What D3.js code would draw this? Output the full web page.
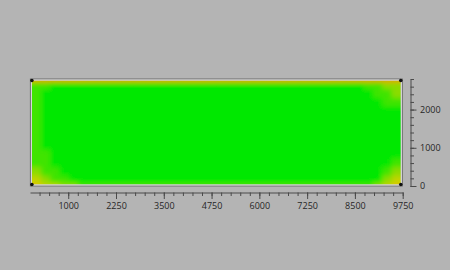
<!DOCTYPE html>
<html>
<head>
<meta charset="utf-8">
<script src="https://cdn.jsdelivr.net/npm/d3@7"></script>
<style>
  html, body { margin: 0; padding: 0; background: #b4b4b4; }
  svg { display: block; }
  .axis text { font-family: "Open Sans", sans-serif; font-size: 9px; fill: #262626; }
  .axis path, .axis line { stroke: #4a4a4a; stroke-width: 1; }
</style>
</head>
<body>
<svg id="chart" width="450" height="270"></svg>
<script>
// ---- data ----
// x / y domains of the axes (data units)
const xDomain = [0, 9750];
const yDomain = [0, 2800];
// major / minor tick values
const xMajorTicks = [1000, 2250, 3500, 4750, 6000, 7250, 8500, 9750];
const xMinorTicks = d3.range(250, 9751, 250);
const yMajorTicks = [0, 1000, 2000];
const yMinorTicks = d3.range(0, 2801, 200);
// image extent in data units
const imageX = [50, 9700];
const imageY = [40, 2760];
// intensity grid (0..9), top row first; 9 = full green
const gridRows = [
  "8899999999999999999999999999999999998877",
  "8999999999999999999999999999999999999887",
  "8999999999999999999999999999999999999988",
  "8999999999999999999999999999999999999999",
  "8999999999999999999999999999999999999999",
  "8999999999999999999999999999999999999999",
  "8999999999999999999999999999999999999999",
  "8999999999999999999999999999999999999999",
  "8899999999999999999999999999999999999999",
  "8899999999999999999999999999999999999998",
  "7889999999999999999999999999999999999987",
  "6788999999999999999999999999999999999976"
];
// thin edge strips along top and bottom of the image
const topEdge    = "4444444444444444444444444444444444444444";
const bottomEdge = "5667788888888888888888888888888888888765";
const edgeThickness = 40;

// ---- scales ----
const x = d3.scaleLinear().domain(xDomain).range([30, 402.7]);
const y = d3.scaleLinear().domain(yDomain).range([186, 79]);
const color = d3.scaleLinear()
  .domain([3, 4, 5, 6, 7, 8, 9])
  .range(["#e07000", "#e8a000", "#e0c400", "#c0d400", "#8cdc00", "#40e400", "#04e804"])
  .clamp(true);

const svg = d3.select("#chart");

const nCols = gridRows[0].length;
const nRows = gridRows.length;
const colW = (imageX[1] - imageX[0]) / nCols;
const rowH = (imageY[1] - imageY[0]) / nRows;

const cells = [];
gridRows.forEach((row, r) => {
  row.split("").forEach((ch, c) => {
    cells.push({
      x0: imageX[0] + c * colW, x1: imageX[0] + (c + 1) * colW,
      y1: imageY[1] - r * rowH, y0: imageY[1] - (r + 1) * rowH,
      v: +ch
    });
  });
});
topEdge.split("").forEach((ch, c) => {
  cells.push({ x0: imageX[0] + c * colW, x1: imageX[0] + (c + 1) * colW,
    y1: imageY[1], y0: imageY[1] - edgeThickness, v: +ch });
});
bottomEdge.split("").forEach((ch, c) => {
  cells.push({ x0: imageX[0] + c * colW, x1: imageX[0] + (c + 1) * colW,
    y1: imageY[0] + edgeThickness, y0: imageY[0], v: +ch });
});

const defs = svg.append("defs");
const fx = x(imageX[0]), fy = y(imageY[1]);
const fw = x(imageX[1]) - fx, fh = y(imageY[0]) - fy;
defs.append("clipPath").attr("id", "imgclip")
  .append("rect")
  .attr("x", fx).attr("y", fy).attr("width", fw).attr("height", fh);
const f = defs.append("filter").attr("id", "soft")
  .attr("filterUnits", "userSpaceOnUse")
  .attr("x", fx - 10).attr("y", fy - 10).attr("width", fw + 20).attr("height", fh + 20);
f.append("feGaussianBlur").attr("stdDeviation", 2.6).attr("edgeMode", "duplicate");

const img = svg.append("g").attr("clip-path", "url(#imgclip)")
  .append("g").attr("filter", "url(#soft)");
// base fill extended beyond the image so the blur does not fade at the border
img.append("rect")
  .attr("x", fx - 8).attr("y", fy - 8).attr("width", fw + 16).attr("height", fh + 16)
  .attr("fill", color(9));
img.selectAll("rect.cell").data(cells).join("rect")
  .attr("class", "cell")
  .attr("x", d => x(d.x0) - (d.x0 === imageX[0] ? 6 : 0))
  .attr("y", d => y(d.y1) - (d.y1 === imageY[1] ? 6 : 0))
  .attr("width", d => x(d.x1) - x(d.x0) + 0.3 + (d.x0 === imageX[0] ? 6 : 0) + (Math.abs(d.x1 - imageX[1]) < 1e-6 ? 6 : 0))
  .attr("height", d => y(d.y0) - y(d.y1) + 0.3 + (d.y1 === imageY[1] ? 6 : 0) + (d.y0 === imageY[0] ? 6 : 0))
  .attr("fill", d => color(d.v));

// frame around the image
svg.append("rect").attr("x", fx - 1.5).attr("y", fy - 1.5)
  .attr("width", fw + 3).attr("height", fh + 3)
  .attr("fill", "none").attr("stroke", "#6a6a6a").attr("stroke-width", 1);
svg.append("rect").attr("x", fx - 0.5).attr("y", fy - 0.5)
  .attr("width", fw + 1).attr("height", fh + 1)
  .attr("fill", "none").attr("stroke", "#dedede").attr("stroke-width", 1);
// corner markers
const corners = [[imageX[0], imageY[0]], [imageX[0], imageY[1]], [imageX[1], imageY[0]], [imageX[1], imageY[1]]];
svg.selectAll("circle.corner").data(corners).join("circle")
  .attr("class", "corner")
  .attr("cx", d => x(d[0])).attr("cy", d => y(d[1]))
  .attr("r", 1.8).attr("fill", "#111");

// ---- axes ----
const xAxisY = 192.5;
svg.append("g").attr("class", "axis")
  .attr("transform", `translate(0,${xAxisY})`)
  .call(d3.axisBottom(x).tickValues(xMinorTicks).tickSize(3.5).tickSizeOuter(0).tickFormat(""));
svg.append("g").attr("class", "axis")
  .attr("transform", `translate(0,${xAxisY})`)
  .call(d3.axisBottom(x).tickValues(xMajorTicks).tickSize(6.5).tickSizeOuter(0).tickPadding(4).tickFormat(d3.format("d")))
  .call(g => g.select(".domain").remove());

const yAxisX = 410.5;
svg.append("g").attr("class", "axis")
  .attr("transform", `translate(${yAxisX},0)`)
  .call(d3.axisRight(y).tickValues(yMinorTicks).tickSize(3.5).tickSizeOuter(0).tickFormat(""));
svg.append("g").attr("class", "axis")
  .attr("transform", `translate(${yAxisX},0)`)
  .call(d3.axisRight(y).tickValues(yMajorTicks).tickSize(6).tickSizeOuter(0).tickPadding(3.5).tickFormat(d3.format("d")))
  .call(g => g.select(".domain").remove());
</script>
</body>
</html>
